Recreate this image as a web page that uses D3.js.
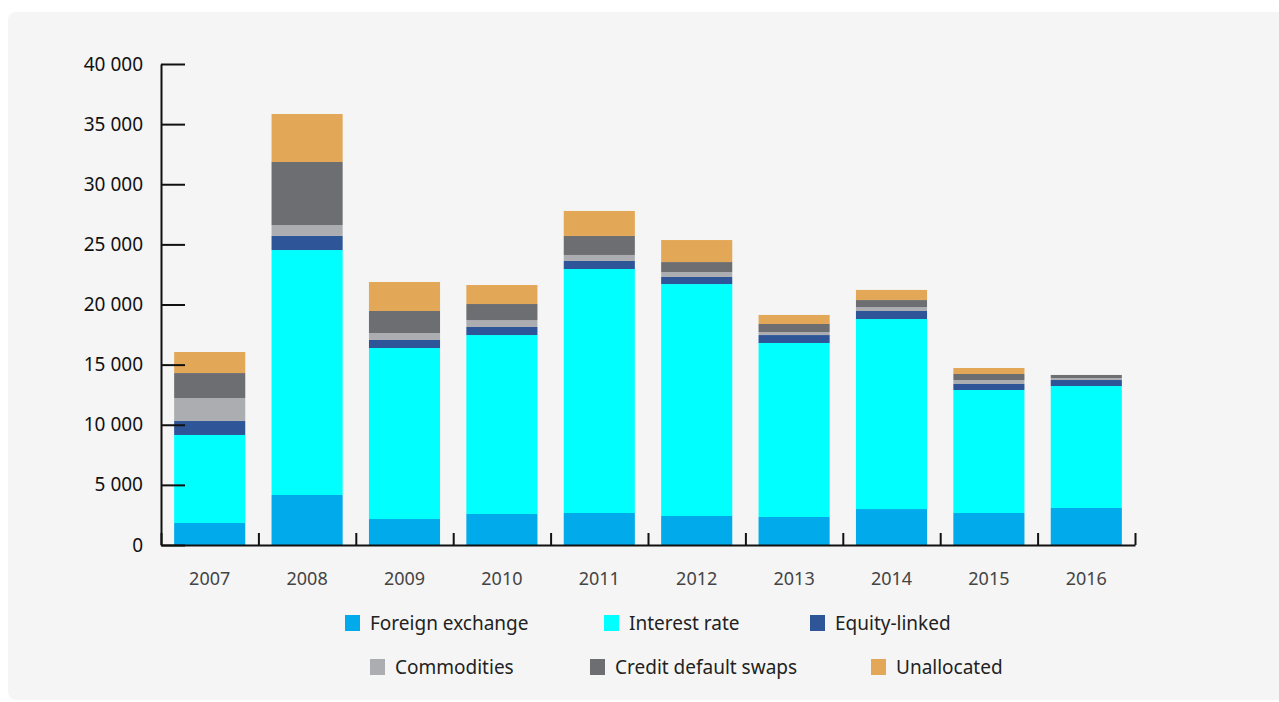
<!DOCTYPE html>
<html>
<head>
<meta charset="utf-8">
<script src="https://cdn.jsdelivr.net/npm/d3@7"></script>
<style>
  body { margin: 0; background: #ffffff; }
  svg { display: block; font-family: "Noto Sans", sans-serif; }
</style>
</head>
<body>
<svg id="chart" width="1279" height="702"></svg>
<script>
// data
var years = ["2007", "2008", "2009", "2010", "2011", "2012", "2013", "2014", "2015", "2016"];
var foreignExchange = [1830, 4160, 2160, 2580, 2660, 2410, 2330, 2990, 2660, 3080];
var interestRate    = [7320, 20370, 14220, 14880, 20290, 19290, 14470, 15800, 10230, 10140];
var equityLinked    = [1160, 1170, 670, 670, 670, 590, 660, 670, 500, 500];
var commodities     = [1910, 910, 580, 580, 500, 410, 250, 330, 330, 170];
var creditDefault   = [2080, 5240, 1830, 1330, 1580, 830, 670, 580, 500, 250];
var unallocated     = [1750, 3990, 2410, 1580, 2080, 1830, 750, 840, 500, 0];
var yTicks = [0, 5000, 10000, 15000, 20000, 25000, 30000, 35000, 40000];

var seriesNames = ["Foreign exchange", "Interest rate", "Equity-linked", "Commodities", "Credit default swaps", "Unallocated"];
var seriesVals = [foreignExchange, interestRate, equityLinked, commodities, creditDefault, unallocated];
var colors = ["#00aaeb", "#00ffff", "#2d5597", "#abadb1", "#6d6e72", "#e3a857"];

var svg = d3.select("#chart");

// grey panel
svg.append("rect")
  .attr("x", 8).attr("y", 12)
  .attr("width", 1290).attr("height", 688)
  .attr("rx", 8)
  .attr("fill", "#f5f5f5");

var rows = years.map(function(y, i) {
  var r = { year: y };
  seriesNames.forEach(function(s, j) { r[s] = seriesVals[j][i]; });
  return r;
});

var stack = d3.stack().keys(seriesNames);
var layers = stack(rows);

var x = d3.scaleBand()
  .domain(years)
  .range([161, 1135])
  .paddingInner(0.27)
  .paddingOuter(0.135);

var y = d3.scaleLinear()
  .domain([0, 40000])
  .range([545, 64]);

// bars
svg.append("g").selectAll("g")
  .data(layers)
  .enter().append("g")
  .attr("fill", function(d, i) { return colors[i]; })
  .selectAll("rect")
  .data(function(d) { return d; })
  .enter().append("rect")
  .attr("x", function(d) { return x(d.data.year); })
  .attr("y", function(d) { return y(d[1]); })
  .attr("height", function(d) { return y(d[0]) - y(d[1]); })
  .attr("width", x.bandwidth());

// y axis
var fmt = function(v) { return d3.format(",")(v).replace(",", " "); };
var yAxis = svg.append("g")
  .attr("transform", "translate(161,0)")
  .call(d3.axisLeft(y).tickValues(yTicks).tickSizeInner(-24).tickSizeOuter(0).tickPadding(18).tickFormat(fmt));
yAxis.select(".domain").attr("stroke", "#111").attr("stroke-width", 2);
yAxis.selectAll(".tick line").attr("stroke", "#111").attr("stroke-width", 2);
yAxis.selectAll("text").attr("font-size", 19).attr("fill", "#111")
  .attr("font-family", "Noto Sans, sans-serif");

// x axis: boundary ticks
var xb = d3.scaleLinear().domain([0, years.length]).range([161, 1135]);
var xAxisLine = svg.append("g")
  .attr("transform", "translate(0,545)")
  .call(d3.axisBottom(xb).tickValues(d3.range(years.length + 1)).tickSize(-12).tickSizeOuter(0).tickFormat(""));
xAxisLine.select(".domain").attr("stroke", "#111").attr("stroke-width", 2);
xAxisLine.selectAll(".tick line").attr("stroke", "#111").attr("stroke-width", 2);

// x labels
var xAxis = svg.append("g")
  .attr("transform", "translate(0,545)")
  .call(d3.axisBottom(x).tickSize(0).tickPadding(27));
xAxis.select(".domain").remove();
xAxis.selectAll("text").attr("font-size", 18).attr("fill", "#444")
  .attr("font-family", "Noto Sans, sans-serif");

// legend
var legendPos = [[345, 623], [604, 623], [810, 623], [370, 667], [590, 667], [871, 667]];
var legend = svg.append("g").selectAll("g")
  .data(seriesNames)
  .enter().append("g")
  .attr("transform", function(d, i) { return "translate(" + legendPos[i][0] + "," + legendPos[i][1] + ")"; });
legend.append("rect")
  .attr("x", 0).attr("y", -8)
  .attr("width", 15).attr("height", 16)
  .attr("fill", function(d, i) { return colors[i]; });
legend.append("text")
  .attr("x", 25).attr("y", 7)
  .attr("font-size", 19)
  .attr("fill", "#222")
  .text(function(d) { return d; });
</script>
</body>
</html>
